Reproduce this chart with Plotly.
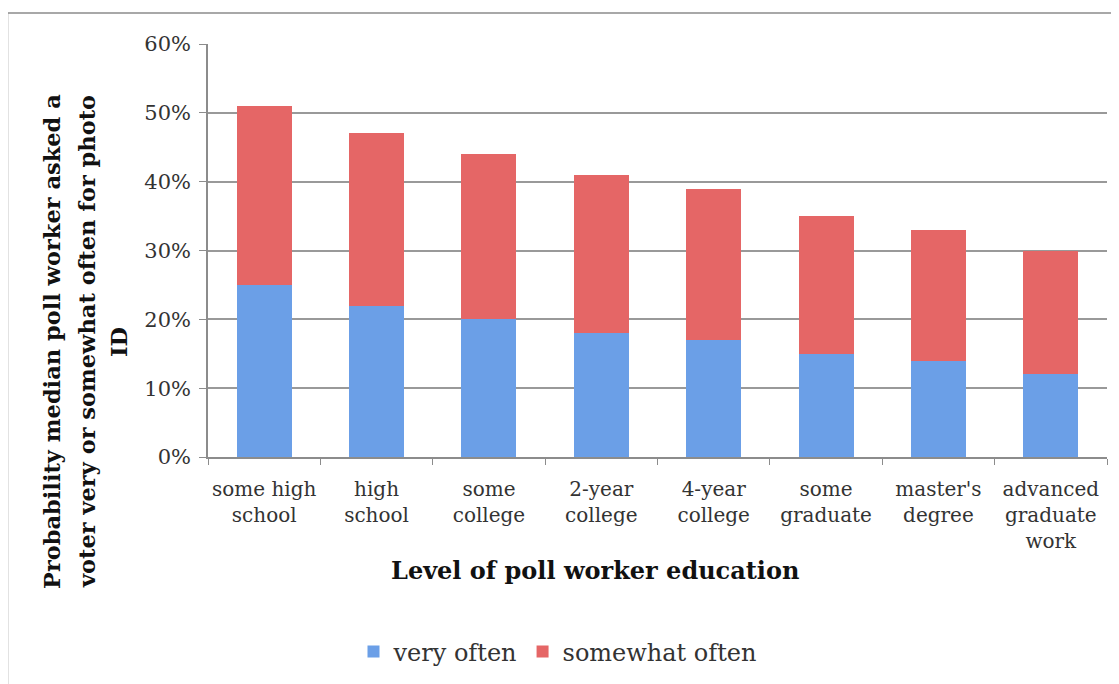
import plotly.graph_objects as go

categories = ["some high<br>school", "high<br>school", "some<br>college", "2-year<br>college",
              "4-year<br>college", "some<br>graduate", "master's<br>degree", "advanced<br>graduate<br>work"]
very_often = [0.25, 0.22, 0.20, 0.18, 0.17, 0.15, 0.14, 0.12]
somewhat_often = [0.26, 0.25, 0.24, 0.23, 0.22, 0.20, 0.19, 0.18]
series_names = ["very often", "somewhat often"]
y_title_lines = ["Probability median poll worker asked a",
                 "voter very or somewhat often for photo",
                 "ID"]
x_title = "Level of poll worker education"

FONT = "DejaVu Serif"

fig = go.Figure()
fig.add_trace(go.Bar(x=categories, y=very_often, name=series_names[0],
                     marker=dict(color="#6b9fe7", line=dict(width=0))))
fig.add_trace(go.Bar(x=categories, y=somewhat_often, name=series_names[1],
                     marker=dict(color="#e56666", line=dict(width=0))))

W, H = 1119, 684
OFF = 8  # page body margin offset
# plot area in screen pixels
SX0, SX1, SY0, SY1 = 208, 1107, 44, 457
L, T = SX0 - OFF, SY0 - OFF
R, B = W - (SX1 - OFF), H - (SY1 - OFF)
pw, ph = SX1 - SX0, SY1 - SY0

def px(x):
    return (x - SX0) / pw

def py(y):
    return (SY1 - y) / ph

fig.update_layout(
    width=W, height=H, barmode="stack", bargap=0.51,
    margin=dict(l=L, r=R, t=T, b=B, autoexpand=False),
    plot_bgcolor="white", paper_bgcolor="white",
    font=dict(family=FONT, color="#333333", size=20),
    legend=dict(orientation="h", x=px(558), y=py(652), xanchor="center", yanchor="middle",
                font=dict(family=FONT, size=24, color="#333333"), traceorder="normal"),
    xaxis=dict(showline=True, linecolor="#8c8c8c", linewidth=1.5, ticks="outside",
               tickson="boundaries", ticklen=6, tickcolor="#8c8c8c", tickwidth=1.2,
               ticklabelstandoff=13, tickangle=0, automargin=False,
               tickfont=dict(family=FONT, size=20, color="#333333"), showgrid=False),
    yaxis=dict(range=[0, 0.6], dtick=0.1, tickformat=".0%", showline=True, linecolor="#8c8c8c",
               linewidth=1.5, ticks="outside", ticklen=7, tickcolor="#8c8c8c", tickwidth=1.2,
               ticklabelstandoff=4, automargin=False,
               showgrid=True, gridcolor="#999999", gridwidth=1.5, zeroline=False,
               tickfont=dict(family=FONT, size=21, color="#333333")),
)

# y-axis title, three lines
for xpix, line in zip([52, 87, 119], y_title_lines):
    fig.add_annotation(text=line, xref="paper", yref="paper", x=px(xpix), y=py(342),
                       xanchor="center", yanchor="middle", textangle=-90, showarrow=False,
                       font=dict(family=FONT, size=22.5, color="#111111", weight="bold"))

fig.add_annotation(text=x_title, xref="paper", yref="paper", x=px(595), y=py(570),
                   xanchor="center", yanchor="middle", showarrow=False,
                   font=dict(family=FONT, size=24, color="#111111", weight="bold"))

# outer chart border
fig.add_shape(type="rect", xref="paper", yref="paper", x0=px(7.5), y0=py(720), x1=px(1140), y1=py(13),
              line=dict(color="#8c8c8c", width=1.5), fillcolor="rgba(0,0,0,0)", layer="below")

fig.write_html("out.html")
